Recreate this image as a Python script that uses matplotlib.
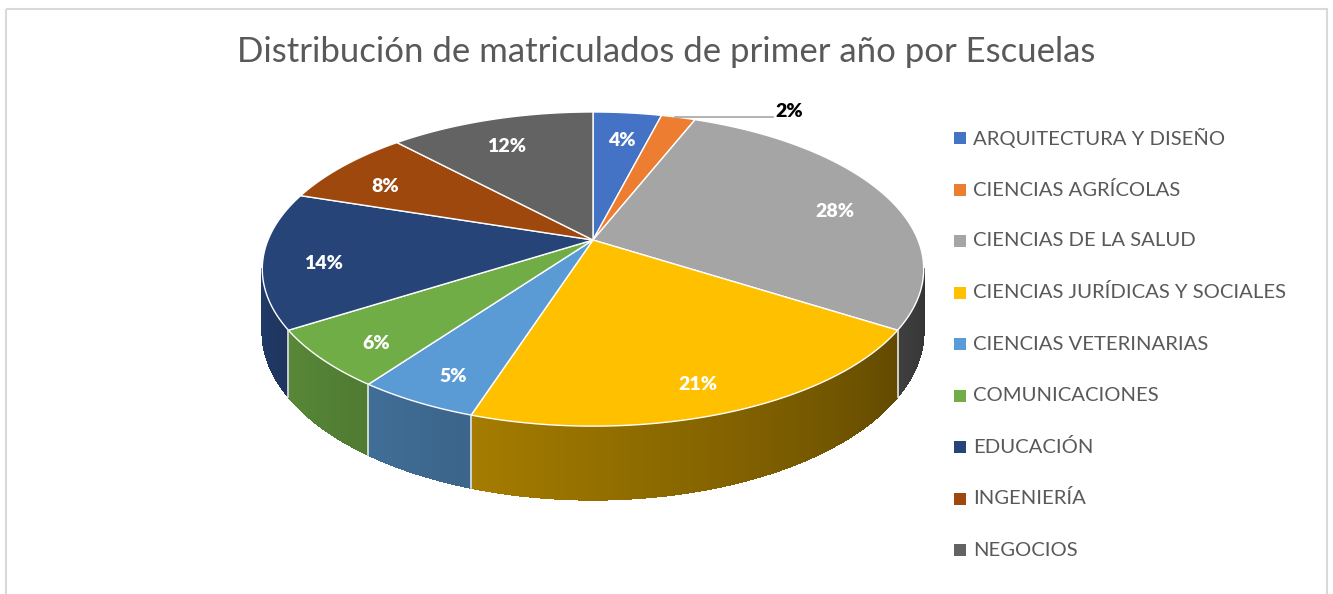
import numpy as np
import matplotlib.pyplot as plt
from matplotlib.patches import Polygon, Rectangle
from matplotlib.collections import PolyCollection

# Data
categories = ['ARQUITECTURA Y DISEÑO', 'CIENCIAS AGRÍCOLAS', 'CIENCIAS DE LA SALUD',
              'CIENCIAS JURÍDICAS Y SOCIALES', 'CIENCIAS VETERINARIAS', 'COMUNICACIONES',
              'EDUCACIÓN', 'INGENIERÍA', 'NEGOCIOS']
values = [4, 2, 28, 21, 5, 6, 14, 8, 12]
colors = ['#4472C4', '#ED7D31', '#A5A5A5', '#FFC000', '#5B9BD5',
          '#70AD47', '#264478', '#9E480E', '#636363']
title = 'Distribución de matriculados de primer año por Escuelas'

plt.rcParams['font.family'] = ['Lato', 'DejaVu Sans']

# 3D pie geometry (pixel space)
CX, CY = 593, 240
A, B = 325, 151.7
P = 0.185
H = 60


def proj(theta, r=1.0, z=0.0):
    t = np.radians(theta)
    X = r * np.sin(t)
    Y = -r * np.cos(t)
    w = 1 - P * Y
    return CX + A * X / w, CY + B * Y / w + z / w


def shade(theta):
    return np.clip(0.38 + (theta - 122) * 0.0035, 0.2, 1.0)


def hex2rgb(h):
    h = h.lstrip('#')
    return np.array([int(h[i:i + 2], 16) for i in (0, 2, 4)]) / 255.0


fig = plt.figure(figsize=(13.33, 5.94), dpi=100)
ax = fig.add_axes([0, 0, 1, 1])
ax.set_xlim(0, 1333)
ax.set_ylim(594, 0)
ax.axis('off')

# chart border
ax.add_patch(Rectangle((6, 9), 1321, 600, fill=False, edgecolor='#D9D9D9', lw=1.5))

fracs = np.array(values, dtype=float) / sum(values)
edges = np.concatenate([[0], np.cumsum(fracs) * 360])

# visible side range (silhouette points)
phi = np.degrees(np.arccos(-P))
vis_lo, vis_hi = phi, 360 - phi

# side faces, shaded in thin strips
for i, c in enumerate(colors):
    a0, a1 = max(edges[i], vis_lo), min(edges[i + 1], vis_hi)
    if a1 <= a0:
        continue
    ts = np.linspace(a0, a1, max(int((a1 - a0) / 0.5), 2) + 1)
    polys, fcs = [], []
    base = hex2rgb(c)
    for t0, t1 in zip(ts[:-1], ts[1:]):
        polys.append([proj(t0), proj(t1), proj(t1, z=H), proj(t0, z=H)])
        fcs.append(np.clip(base * shade((t0 + t1) / 2), 0, 1))
    ax.add_collection(PolyCollection(polys, facecolors=fcs, edgecolors=fcs,
                                     linewidths=0.6, antialiaseds=False))

for e in edges:
    if vis_lo < e < vis_hi:
        x0, y0 = proj(e)
        x1, y1 = proj(e, z=H)
        ax.plot([x0, x1], [y0, y1], color='#E8E8E8', lw=1.2)

# top face
for i, c in enumerate(colors):
    ts = np.linspace(edges[i], edges[i + 1], max(int(edges[i + 1] - edges[i]), 2) + 1)
    pts = [proj(0, r=0)] + [proj(t) for t in ts]
    ax.add_patch(Polygon(pts, closed=True, facecolor=c, edgecolor='white', lw=1.0))

# data labels
for i, v in enumerate(values):
    mid = (edges[i] + edges[i + 1]) / 2
    if v < 3:
        x0, y0 = proj(mid)
        ax.plot([x0 - 3, x0 + 95], [y0, y0], color='#A6A6A6', lw=1.2)
        ax.text(x0 + 97, y0 - 6, f'{v}%', color='black', fontsize=14,
                fontweight='heavy', ha='left', va='center')
    else:
        x, y = proj(mid, r=0.82)
        ax.text(x, y + 8, f'{v}%', color='white', fontsize=14,
                fontweight='heavy', ha='center', va='center')

# title
ax.text(666, 52, title, color='#595959', fontsize=25, ha='center', va='center')

# legend
for i, (lab, c) in enumerate(zip(categories, colors)):
    y = 138 + i * 51.5
    ax.add_patch(Rectangle((954, y - 6), 12, 12, facecolor=c, edgecolor='none'))
    ax.text(973, y, lab, color='#595959', fontsize=14.6, ha='left', va='center')

fig.savefig('out.png', dpi=100)
